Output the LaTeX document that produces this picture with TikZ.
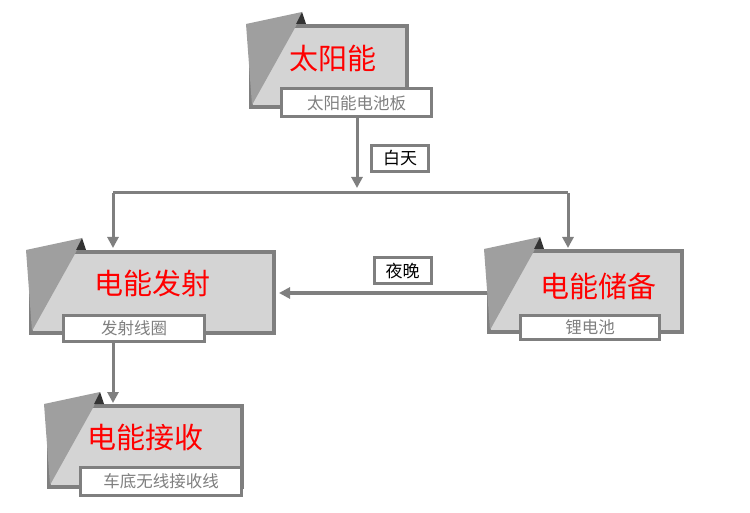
\documentclass[tikz,border=0pt]{standalone}
\usepackage{fontspec}
\setmainfont{Noto Sans CJK SC}
\usetikzlibrary{arrows.meta}
\usetikzlibrary{calc}
\definecolor{bordgris}{HTML}{7F7F7F}
\definecolor{fondgris}{HTML}{D4D4D4}
\begin{document}
\begin{tikzpicture}[x=1pt,y=-1pt]
\tikzstyle{bloc}=[rectangle,draw=bordgris,line width=4pt,fill=fondgris,inner sep=0pt]
\tikzstyle{titre}=[text=red,font=\fontsize{29}{31}\selectfont]
\tikzstyle{sous}=[rectangle,draw=bordgris,line width=3pt,fill=white,inner sep=0pt,text=bordgris,font=\fontsize{16.5}{17}\selectfont]
\tikzstyle{etiq}=[rectangle,draw=bordgris,line width=3pt,fill=white,inner sep=0pt,minimum width=57pt,minimum height=26pt,font=\fontsize{17}{18}\selectfont]
\useasboundingbox (0,0) rectangle (750,513);

\node[bloc,minimum width=156pt,minimum height=81pt] (soleil) at (329,66.5) {};
\node[bloc,minimum width=243pt,minimum height=81pt] (emis) at (152.5,292.5) {};
\node[bloc,minimum width=193pt,minimum height=81pt] (stock) at (585.5,291.5) {};
\node[bloc,minimum width=193pt,minimum height=81pt] (recep) at (145.5,446.5) {};

% rabats
\foreach \b in {soleil,emis,stock,recep}{
\fill[gray!75] ($(\b.north west)+(-3,0)$) -- ++(56,-12) -- ++(-6,14) -- ($(\b.south west)+(3,-4)$) -- cycle;
\fill[gray!40!black] ($(\b.north west)+(53,-12)$) -- ++(4,12) -- ++(-10,0) -- cycle;
}

\node[titre] (tsoleil) at (333,58) {太阳能};
\node[titre] (temis) at (152,283) {电能发射};
\node[titre] (tstock) at (598,286) {电能储备};
\node[titre] (trecep) at (145,437) {电能接收};

\node[sous,minimum width=150pt,minimum height=28pt] (psoleil) at (356.5,103) {太阳能电池板};
\node[sous,minimum width=141pt,minimum height=26pt] (pemis) at (134,328) {发射线圈};
\node[sous,minimum width=139pt,minimum height=24pt] (pstock) at (590,327) {锂电池};
\node[sous,minimum width=161pt,minimum height=28pt] (precep) at (161,481) {车底无线接收线};

\node[etiq] (jour) at (400,158.5) {白天};
\node[etiq] (nuit) at (402.5,271) {夜晚};

\coordinate (fourche) at (357,193);
\tikzstyle{suite}=[-{Triangle[length=11pt,width=11pt]},draw=bordgris,line width=3pt]
\draw[suite] (psoleil.south -| fourche) -- ($(fourche)+(0,-5)$);
\draw[draw=bordgris,line width=3pt] (113,193) -- (568,193);
\draw[suite] (113,193) -- (113,248);
\draw[suite] (568,193) -- (568,248);
\draw[suite] (stock.west |- 0,293) -- (279,293);
\draw[suite] (113,341) -- (113,403);
\end{tikzpicture}
\end{document}
